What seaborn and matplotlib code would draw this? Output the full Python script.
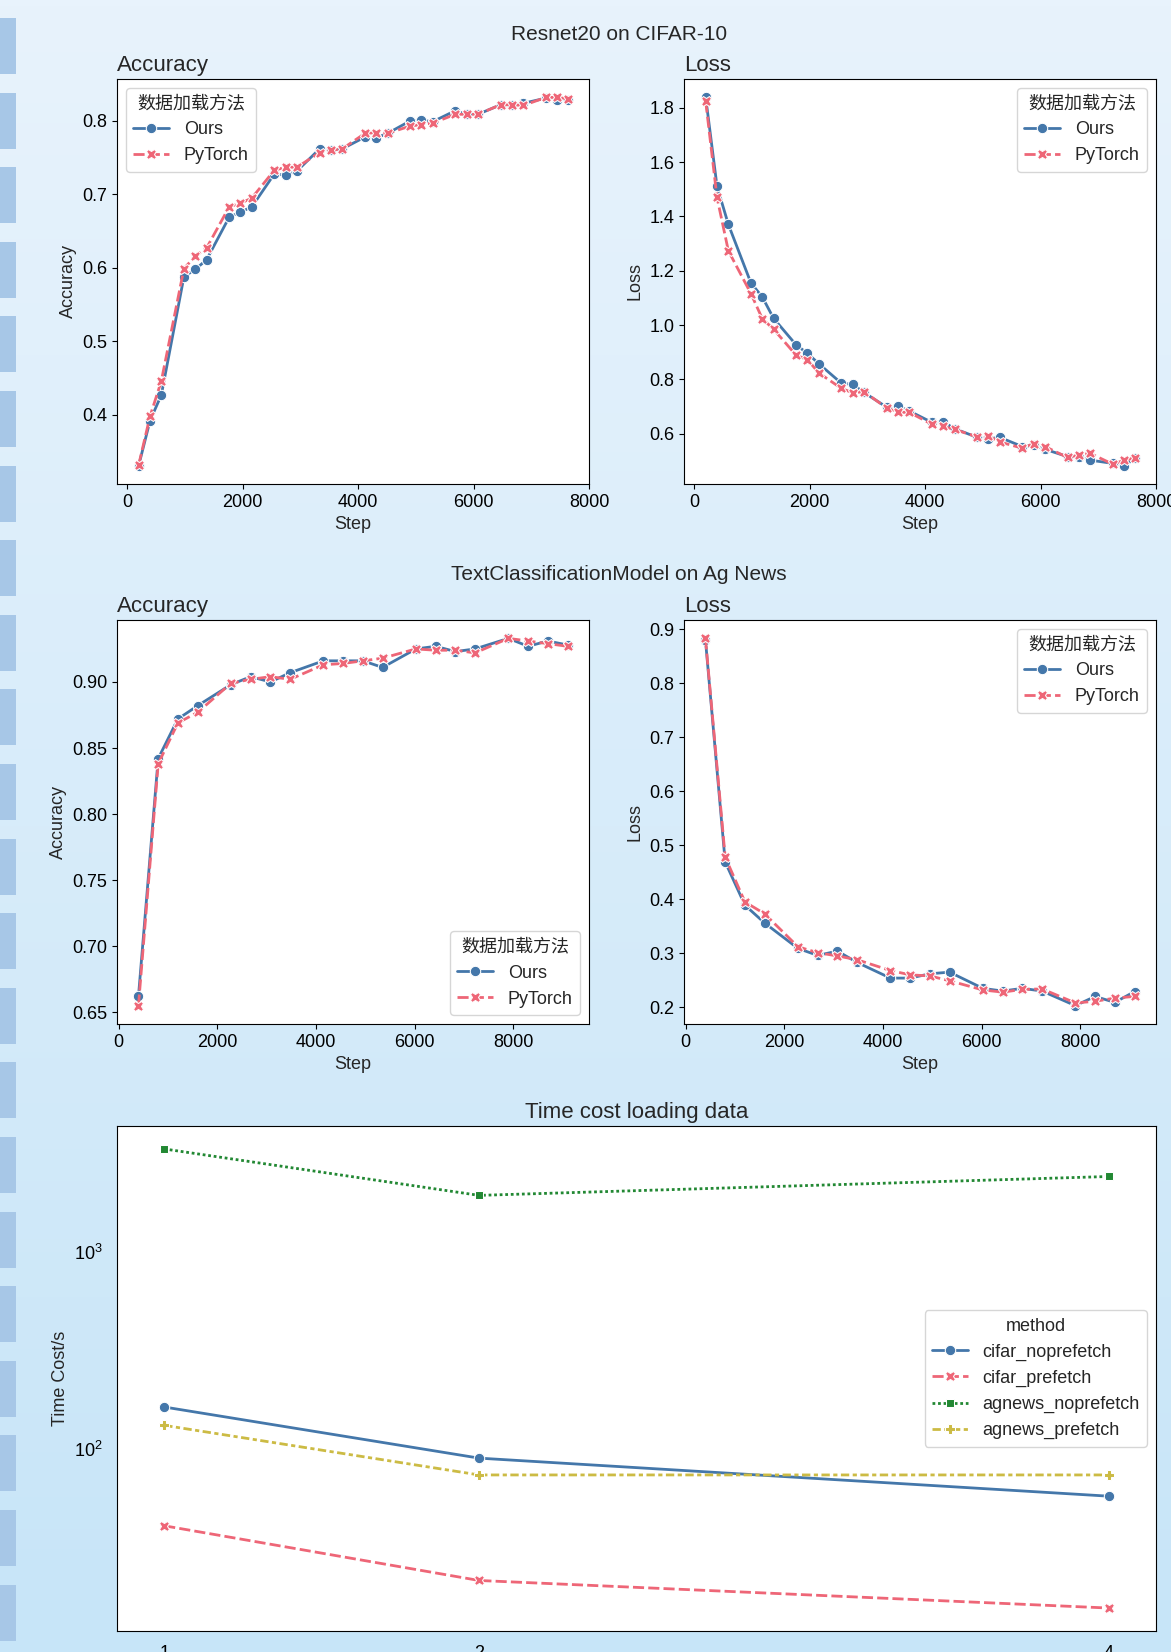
import numpy as np
import pandas as pd
import matplotlib
matplotlib.use('Agg')
import matplotlib.pyplot as plt
from matplotlib.patches import Rectangle
import seaborn as sns

# ── data ──────────────────────────────────────────────────────────────────────
cifar_steps = [196, 392, 588, 980, 1176, 1372, 1764, 1960, 2156, 2548, 2744, 2940,
               3332, 3528, 3724, 4116, 4312, 4508, 4900, 5096, 5292, 5684, 5880, 6076,
               6468, 6664, 6860, 7252, 7448, 7644]
cifar_acc_ours = [0.331, 0.392, 0.427, 0.588, 0.598, 0.611, 0.669, 0.676, 0.683, 0.728,
                  0.726, 0.732, 0.762, 0.760, 0.762, 0.778, 0.777, 0.783, 0.800, 0.801,
                  0.799, 0.814, 0.809, 0.809, 0.822, 0.822, 0.824, 0.831, 0.829, 0.828]
cifar_acc_torch = [0.332, 0.398, 0.446, 0.599, 0.616, 0.627, 0.683, 0.688, 0.695, 0.733,
                   0.737, 0.737, 0.757, 0.760, 0.762, 0.783, 0.784, 0.783, 0.793, 0.795,
                   0.797, 0.809, 0.809, 0.809, 0.822, 0.822, 0.821, 0.832, 0.832, 0.830]
cifar_loss_ours = [1.838, 1.511, 1.371, 1.155, 1.104, 1.025, 0.927, 0.896, 0.858, 0.786,
                   0.782, 0.752, 0.698, 0.702, 0.684, 0.642, 0.644, 0.619, 0.587, 0.582,
                   0.587, 0.553, 0.557, 0.543, 0.516, 0.516, 0.503, 0.491, 0.483, 0.510]
cifar_loss_torch = [1.823, 1.470, 1.274, 1.116, 1.024, 0.985, 0.889, 0.873, 0.824, 0.767,
                    0.751, 0.755, 0.695, 0.679, 0.679, 0.635, 0.627, 0.616, 0.589, 0.591,
                    0.570, 0.547, 0.564, 0.553, 0.513, 0.522, 0.528, 0.488, 0.503, 0.512]

ag_steps = [400, 800, 1200, 1600, 2275, 2675, 3075, 3475, 4150, 4550, 4950, 5350,
            6025, 6425, 6825, 7225, 7900, 8300, 8700, 9100]
ag_acc_ours = [0.662, 0.842, 0.872, 0.882, 0.898, 0.904, 0.900, 0.907, 0.916, 0.916,
               0.916, 0.911, 0.925, 0.927, 0.923, 0.925, 0.933, 0.927, 0.931, 0.928]
ag_acc_torch = [0.655, 0.838, 0.869, 0.877, 0.899, 0.902, 0.904, 0.902, 0.913, 0.914,
                0.916, 0.918, 0.925, 0.924, 0.924, 0.922, 0.933, 0.931, 0.929, 0.927]
ag_loss_ours = [0.880, 0.469, 0.389, 0.356, 0.309, 0.296, 0.304, 0.283, 0.254, 0.254,
                0.262, 0.265, 0.235, 0.230, 0.235, 0.230, 0.203, 0.220, 0.209, 0.229]
ag_loss_torch = [0.883, 0.478, 0.395, 0.373, 0.312, 0.301, 0.295, 0.288, 0.268, 0.260,
                 0.258, 0.249, 0.232, 0.228, 0.233, 0.234, 0.208, 0.211, 0.217, 0.220]

methods = ['Ours', 'PyTorch']
workers = [1, 2, 4]
time_methods = ['cifar_noprefetch', 'cifar_prefetch', 'agnews_noprefetch', 'agnews_prefetch']
cifar_noprefetch = [163, 89.6, 57.4]
cifar_prefetch = [40.6, 21.4, 15.5]
agnews_noprefetch = [3340, 1940, 2420]
agnews_prefetch = [131.5, 73.6, 73.6]

# ── style ─────────────────────────────────────────────────────────────────────
sns.set_style('ticks')
plt.rcParams['font.family'] = ['Liberation Sans', 'Noto Sans CJK SC', 'DejaVu Sans']
plt.rcParams['mathtext.fontset'] = 'custom'
plt.rcParams['mathtext.rm'] = 'Liberation Sans'
plt.rcParams['axes.edgecolor'] = 'black'
plt.rcParams['xtick.color'] = 'black'
plt.rcParams['ytick.color'] = 'black'

pal2 = ['#4477AA', '#EE6677']
pal4 = ['#4477AA', '#EE6677', '#228833', '#CCBB44']
LEG = '数据加载方法'

W, H = 1171, 1652
fig = plt.figure(figsize=(W / 100, H / 100), dpi=100)

# background (light blue gradient + left strip)
bg = fig.add_axes([0, 0, 1, 1], zorder=-10)
grad = np.linspace(0, 1, 256)[:, None]
top_c = np.array([232, 243, 252]) / 255
bot_c = np.array([199, 229, 248]) / 255
img = top_c * (1 - grad[..., None]) + bot_c * grad[..., None]
bg.imshow(img, aspect='auto', extent=[0, W, H, 0])
for i in range(22):
    bg.add_patch(Rectangle((0, 18 + i * 74.6), 16, 56, color='#a7c7e7', lw=0))
bg.set_xlim(0, W)
bg.set_ylim(H, 0)
bg.axis('off')


def px_axes(x0, y0, x1, y1):
    return fig.add_axes([x0 / W, 1 - y1 / H, (x1 - x0) / W, (y1 - y0) / H])


def curve(ax, steps, ours, torch, name, loc):
    df = pd.DataFrame({
        'Step': steps * 2,
        name: ours + torch,
        LEG: [methods[0]] * len(steps) + [methods[1]] * len(steps),
    })
    sns.lineplot(data=df, x='Step', y=name, hue=LEG, style=LEG, markers=True,
                 palette=pal2, ax=ax, linewidth=2, markersize=7.5)
    ax.set_title(name, loc='left', fontsize=16)
    ax.set_xlabel('Step', fontsize=13)
    ax.set_ylabel(name, fontsize=13)
    ax.tick_params(labelsize=13)
    ax.set_facecolor('white')
    ax.legend(title=LEG, loc=loc, fontsize=13, title_fontsize=13)


ax1 = px_axes(117, 79, 589, 484)
curve(ax1, cifar_steps, cifar_acc_ours, cifar_acc_torch, 'Accuracy', 'upper left')
ax1.set_xlim(-180, 8000)
ax1.set_xticks([0, 2000, 4000, 6000, 8000])

ax2 = px_axes(684, 79, 1156, 484)
curve(ax2, cifar_steps, cifar_loss_ours, cifar_loss_torch, 'Loss', 'upper right')
ax2.set_xlim(-180, 8000)
ax2.set_xticks([0, 2000, 4000, 6000, 8000])

ax3 = px_axes(117, 620, 589, 1024)
curve(ax3, ag_steps, ag_acc_ours, ag_acc_torch, 'Accuracy', 'lower right')

ax4 = px_axes(684, 620, 1156, 1024)
curve(ax4, ag_steps, ag_loss_ours, ag_loss_torch, 'Loss', 'upper right')

fig.text(619 / W, 1 - 34 / H, 'Resnet20 on CIFAR-10', ha='center', va='center', fontsize=15)
fig.text(619 / W, 1 - 574 / H, 'TextClassificationModel on Ag News', ha='center',
         va='center', fontsize=15)

# ── time cost ────────────────────────────────────────────────────────────────
tdf = pd.DataFrame({
    'workers': workers * 4,
    'Time Cost/s': cifar_noprefetch + cifar_prefetch + agnews_noprefetch + agnews_prefetch,
    'method': [m for m in time_methods for _ in workers],
})
ax5 = px_axes(117, 1126, 1156, 1631)
sns.lineplot(data=tdf, x='workers', y='Time Cost/s', hue='method', style='method',
             markers=True, palette=pal4, ax=ax5, linewidth=2, markersize=7.5)
ax5.set_yscale('log')
ax5.set_xticks(workers)
ax5.set_xlabel('')
ax5.set_ylabel('Time Cost/s', fontsize=13)
ax5.tick_params(which='both', length=0, pad=10, labelsize=13)
ax5.set_title('Time cost loading data', fontsize=16)
ax5.set_facecolor('white')
ax5.legend(title='method', loc='center right', fontsize=13, title_fontsize=13)

fig.savefig('out.png', dpi=100)
